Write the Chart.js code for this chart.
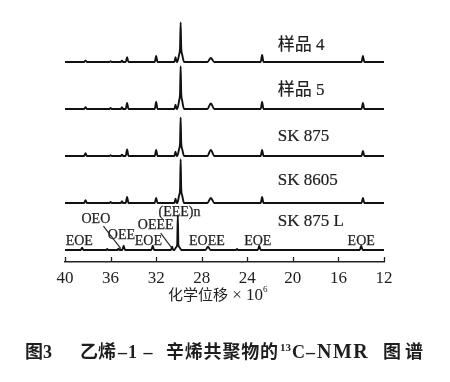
<!DOCTYPE html>
<html><head><meta charset="utf-8">
<script src="https://cdn.jsdelivr.net/npm/chart.js@4/dist/chart.umd.min.js"></script>
<style>html,body{margin:0;padding:0;background:#fff}canvas{display:block}</style>
</head><body>
<canvas id="c" width="450" height="382"></canvas>
<script>
// ---- data ----
const categories = ['样品 4', '样品 5', 'SK 875', 'SK 8605', 'SK 875 L'];
const xTicks = [40, 36, 32, 28, 24, 20, 16, 12];

// peak positions (ppm) common to the four upper spectra
const shiftsUpper = [38.2, 36.0, 35.0, 34.55, 32.0, 30.3, 29.85, 27.2, 22.7, 13.85];
const widthsUpper = [0.12, 0.1, 0.1, 0.12, 0.12, 0.1, 0.05, 0.3, 0.12, 0.12];
const heightsS4 = [0.03, 0.015, 0.03, 0.10, 0.13, 0.10, 0.84, 0.085, 0.15, 0.13];
const heightsS5 = [0.04, 0.02, 0.04, 0.13, 0.15, 0.09, 0.91, 0.12, 0.15, 0.13];
const heightsSK875 = [0.06, 0.015, 0.03, 0.14, 0.13, 0.09, 0.82, 0.13, 0.13, 0.11];
const heightsSK8605 = [0.06, 0.02, 0.04, 0.13, 0.11, 0.09, 0.93, 0.11, 0.13, 0.11];

// bottom spectrum (SK 875 L)
const shiftsL = [38.5, 36.3, 35.3, 34.85, 32.3, 30.6, 30.1, 27.45, 24.9, 22.95, 14.0];
const widthsL = [0.12, 0.08, 0.1, 0.12, 0.12, 0.1, 0.05, 0.22, 0.08, 0.12, 0.12];
const heightsL = [0.05, 0.02, 0.03, 0.09, 0.09, 0.07, 0.74, 0.07, 0.02, 0.09, 0.09];

// shoulder height of the main (EEE)n peak in each spectrum
const shoulders = [0.30, 0.34, 0.28, 0.30, 0.12];

// peak assignments in the bottom spectrum
const assignLabels = ['EOE', 'OEO', 'OEE', 'EOE', 'OEEE', '(EEE)n', 'EOEE', 'EOE', 'EOE'];
const assignShifts = [38.75, 37.29, 35.05, 32.68, 32.04, 29.95, 27.54, 23.08, 14.0];
const assignLevels = [0.19, 0.65, 0.32, 0.19, 0.53, 0.81, 0.19, 0.19, 0.19];
// leader lines: [fromShift, fromLevel, toShift, toLevel]
const leaders = [[36.63, 0.51, 35.1, 0.03], [31.6, 0.36, 30.62, 0.04]];

// ---- layout constants ----
const offsets = [4, 3, 2, 1, 0];
const labelShift = 21.32;
const labelLevels = [4.355, 3.40, 2.41, 1.47, 0.60];

function buildSpectrum(shifts, widths, heights, shoulderH, off) {
  const pts = [{x: 40, y: off}, {x: 12, y: off}];
  const mainIdx = heights.indexOf(Math.max(...heights));
  shifts.forEach((s, i) => {
    const w = widths[i], h = heights[i];
    if (i === mainIdx) {
      pts.push({x: s + 0.3, y: off}, {x: s + 0.13, y: off + shoulderH * 0.55},
               {x: s + w, y: off + shoulderH}, {x: s, y: off + h},
               {x: s - w, y: off + shoulderH}, {x: s - 0.13, y: off + shoulderH * 0.55},
               {x: s - 0.3, y: off});
    } else {
      pts.push({x: s + w, y: off}, {x: s, y: off + h}, {x: s - w, y: off});
    }
  });
  pts.sort((a, b) => a.x - b.x);
  return pts;
}

const spectra = [
  buildSpectrum(shiftsUpper, widthsUpper, heightsS4, shoulders[0], offsets[0]),
  buildSpectrum(shiftsUpper, widthsUpper, heightsS5, shoulders[1], offsets[1]),
  buildSpectrum(shiftsUpper, widthsUpper, heightsSK875, shoulders[2], offsets[2]),
  buildSpectrum(shiftsUpper, widthsUpper, heightsSK8605, shoulders[3], offsets[3]),
  buildSpectrum(shiftsL, widthsL, heightsL, shoulders[4], offsets[4])
];

const TXT = '#1e1e1e';
const SERIF = '"Liberation Serif", "Noto Sans CJK SC"';

function fillBold(ctx, t, x, y, w) {
  ctx.fillText(t, x, y);
  if (w) { ctx.lineWidth = w; ctx.strokeText(t, x, y); }
}

function drawRuns(ctx, runs, x, y, w) {
  runs.forEach(r => {
    ctx.font = r.font;
    ctx.letterSpacing = (r.ls || 0) + 'px';
    if (r.x !== undefined) x = r.x;
    fillBold(ctx, r.t, x, y + (r.dy || 0), r.w !== undefined ? r.w : w);
    x += ctx.measureText(r.t).width;
  });
  ctx.letterSpacing = '0px';
  return x;
}

const overlay = {
  id: 'overlay',
  afterDraw(chart) {
    const {ctx, scales: {x, y}, chartArea} = chart;
    ctx.save();
    // inward tick marks
    ctx.strokeStyle = '#222';
    ctx.lineWidth = 1.3;
    xTicks.forEach(v => {
      const px = Math.round(x.getPixelForValue(v)) + 0.5;
      ctx.beginPath();
      ctx.moveTo(px, chartArea.bottom);
      ctx.lineTo(px, chartArea.bottom - 5);
      ctx.stroke();
    });
    // sample labels
    ctx.fillStyle = TXT;
    ctx.strokeStyle = TXT;
    ctx.textBaseline = 'middle';
    ctx.textAlign = 'left';
    ctx.font = '17px ' + SERIF;
    categories.forEach((c, i) => {
      fillBold(ctx, c, x.getPixelForValue(labelShift), y.getPixelForValue(labelLevels[i]), 0.2);
    });
    // assignments
    ctx.font = '14px "Liberation Serif"';
    ctx.textAlign = 'center';
    assignLabels.forEach((t, i) => {
      fillBold(ctx, t, x.getPixelForValue(assignShifts[i]), y.getPixelForValue(assignLevels[i]), 0.25);
    });
    ctx.lineWidth = 1.1;
    ctx.strokeStyle = '#222';
    leaders.forEach(l => {
      ctx.beginPath();
      ctx.moveTo(x.getPixelForValue(l[0]), y.getPixelForValue(l[1]));
      ctx.lineTo(x.getPixelForValue(l[2]), y.getPixelForValue(l[3]));
      ctx.stroke();
    });
    // axis title
    ctx.textAlign = 'left';
    ctx.textBaseline = 'alphabetic';
    drawRuns(ctx, [
      {t: '化学位移', font: '15px "Noto Sans CJK SC"', x: 168},
      {t: ' × 10', font: '17px "Liberation Serif"'},
      {t: '6', font: '9px "Liberation Serif"', dy: -8}
    ], 168, 300, 0);
    // caption
    const B = 'bold 18px "Liberation Serif"';
    const BC = 'bold 18px "Noto Sans CJK SC"';
    drawRuns(ctx, [
      {t: '图', font: BC, x: 25}, {t: '3', font: B},
      {t: '乙烯', font: BC, x: 80},
      {t: '–1 –', font: B, x: 118, ls: 1},
      {t: '辛烯共聚物的', font: BC, x: 166, ls: 0.8},
      {t: '13', font: 'bold 11px "Liberation Serif"', dy: -7, x: 280},
      {t: 'C', font: B, x: 292},
      {t: '–', font: B, x: 306},
      {t: 'NMR', font: 'bold 20px "Liberation Serif"', x: 317, ls: 1.5},
      {t: '图谱', font: BC, x: 383, ls: 4}
    ], 25, 358);
    ctx.restore();
  }
};

new Chart(document.getElementById('c'), {
  type: 'line',
  data: {
    datasets: spectra.map((d, i) => ({
      label: categories[i],
      data: d,
      borderColor: '#111',
      borderWidth: 1.9,
      pointRadius: 0,
      cubicInterpolationMode: 'monotone',
      fill: false
    }))
  },
  options: {
    responsive: false,
    animation: false,
    layout: {padding: {left: 65, right: 66, top: 15, bottom: 0}},
    plugins: {legend: {display: false}, tooltip: {enabled: false}},
    scales: {
      x: {
        type: 'linear', min: 12, max: 40, reverse: true,
        afterBuildTicks: s => { s.ticks = xTicks.map(v => ({value: v})); },
        afterFit: s => { s.height = 120; },
        grid: {display: false, drawTicks: false},
        border: {display: true, color: '#222', width: 1.5},
        ticks: {color: TXT, padding: 6, maxRotation: 0, autoSkip: false,
                font: {family: 'Liberation Serif', size: 17}}
      },
      y: {type: 'linear', min: -0.255, max: 5.0, display: false}
    }
  },
  plugins: [overlay]
});
</script>
</body></html>
